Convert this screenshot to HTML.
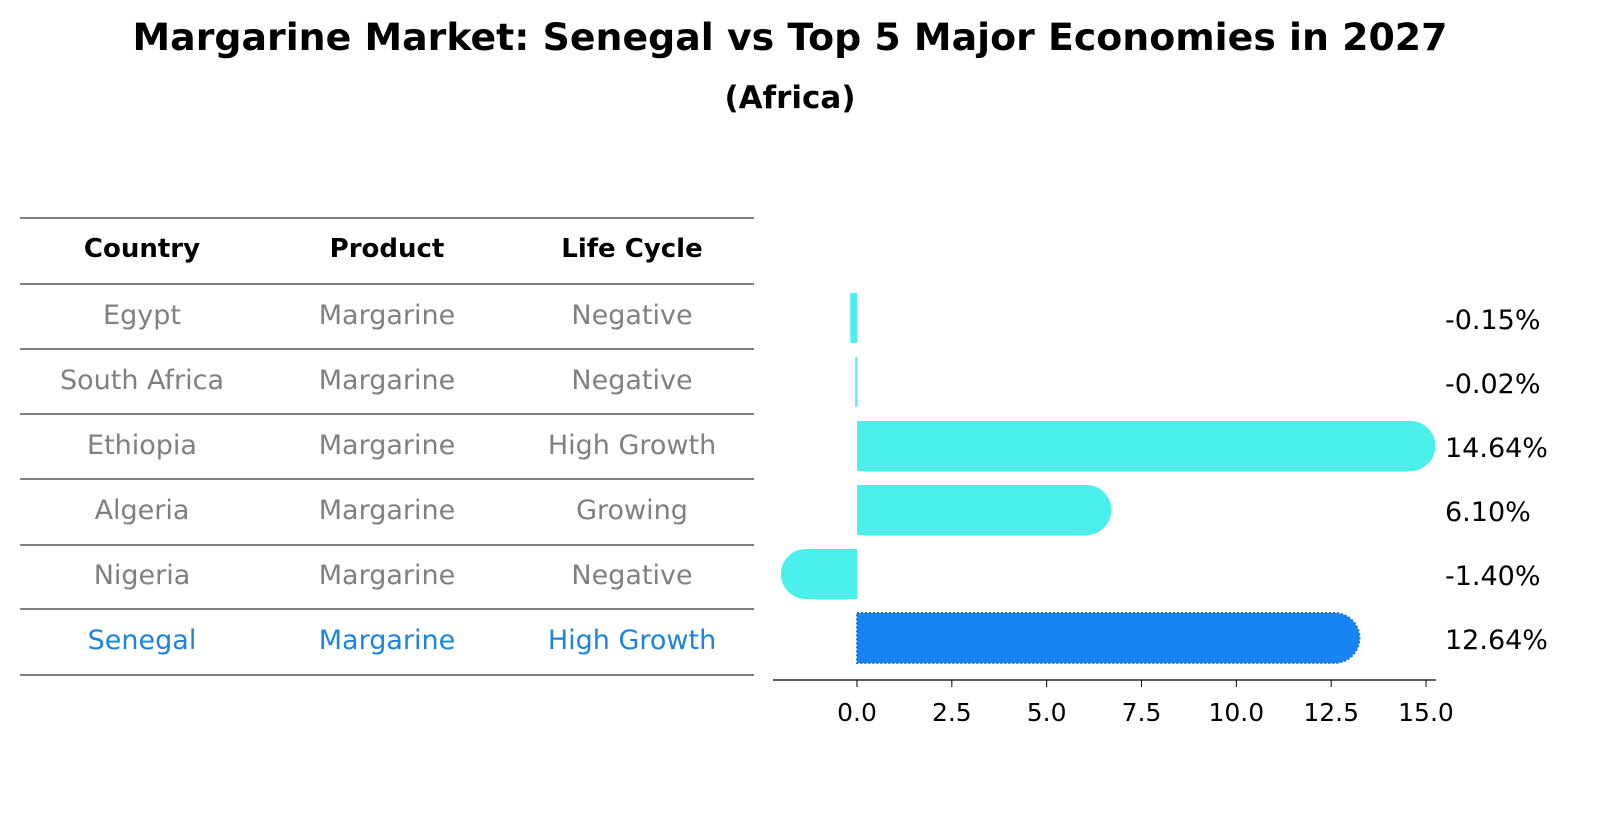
<!DOCTYPE html>
<html><head><meta charset="utf-8"><style>
body{margin:0;background:#fff;font-family:"Liberation Sans","DejaVu Sans",sans-serif}
</style></head><body>
<svg width="1604" height="823" xmlns="http://www.w3.org/2000/svg" font-family="DejaVu Sans, Liberation Sans, sans-serif">
<text x="790" y="50" font-size="37" font-weight="bold" text-anchor="middle" textLength="1315" lengthAdjust="spacingAndGlyphs">Margarine Market: Senegal vs Top 5 Major Economies in 2027</text>
<text x="790" y="108" font-size="31" font-weight="bold" text-anchor="middle">(Africa)</text>
<g id="table"></g>
<g id="chart"></g>
</svg>
<script>
const countries=["Egypt","South Africa","Ethiopia","Algeria","Nigeria","Senegal"];
const products=["Margarine","Margarine","Margarine","Margarine","Margarine","Margarine"];
const lifecycle=["Negative","Negative","High Growth","Growing","Negative","High Growth"];
const values=[-0.15,-0.02,14.64,6.10,-1.40,12.64];
const ticks=[0,2.5,5,7.5,10,12.5,15];
const NS="http://www.w3.org/2000/svg";
function mk(t,a,p){const e=document.createElementNS(NS,t);for(const k in a)e.setAttribute(k,a[k]);p.appendChild(e);return e;}
const tbl=document.getElementById('table');
const lines=[218,284,349,414,479,545,609,675];
lines.forEach(y=>{const l=mk('line',{x1:20,x2:754,y1:y,y2:y,stroke:'#000','stroke-width':1},tbl);

});
const cx=[142,387,632];
["Country","Product","Life Cycle"].forEach((h,i)=>{const t=mk('text',{x:cx[i],y:257,'font-size':26,'font-weight':'bold','text-anchor':'middle'},tbl);t.textContent=h;

});
const rowY=i=>324+i*65;
countries.forEach((c,i)=>{const col=i===5?'#1a84e0':'#808080';
[c,products[i],lifecycle[i]].forEach((v,j)=>{const t=mk('text',{x:cx[j],y:rowY(i),'font-size':27,fill:col,'text-anchor':'middle'},tbl);t.textContent=v;

});});
const ch=document.getElementById('chart');
const x0=857,sc=(1426-857)/15;const X=v=>x0+v*sc;
const barY=i=>318+i*64;
values.forEach((v,i)=>{const w=Math.abs(v)*sc;
const fill=i===5?'#1884f3':'#4aeeea';
let d;const yt=barY(i)-25,yb=barY(i)+25;
if(w<10){const xe=v>=0?x0+w+1:x0-w-1;const a=Math.min(x0,xe),b=Math.max(x0,xe);d=`M${a},${yt} L${b},${yt} L${b},${yb} L${a},${yb} Z`;}
else{const tot=w+23;const r=25;
if(v>=0){const xe=x0+tot;d=`M${x0},${yt} L${xe-r},${yt} A${r},25 0 0 1 ${xe-r},${yb} L${x0},${yb} Z`;}
else{const xe=x0-tot;d=`M${x0},${yt} L${xe+r},${yt} A${r},25 0 0 0 ${xe+r},${yb} L${x0},${yb} Z`;}}
const p=mk('path',{d:d,fill:fill},ch);
if(i===5){p.setAttribute('stroke','#1a6fd0');p.setAttribute('stroke-dasharray','2,2');p.setAttribute('stroke-width','2');}


const t=mk('text',{x:1445,y:barY(i)+11,'font-size':27},ch);t.textContent=v.toFixed(2)+'%';

});
const ax=mk('line',{x1:773,x2:1436,y1:680,y2:680,stroke:'#000','stroke-width':1.3},ch);


ticks.forEach(tv=>{const l=mk('line',{x1:X(tv),x2:X(tv),y1:680,y2:687,stroke:'#000'},ch);


const t=mk('text',{x:X(tv),y:721,'font-size':25,'text-anchor':'middle'},ch);t.textContent=tv.toFixed(1);

});
</script>
</body></html>
